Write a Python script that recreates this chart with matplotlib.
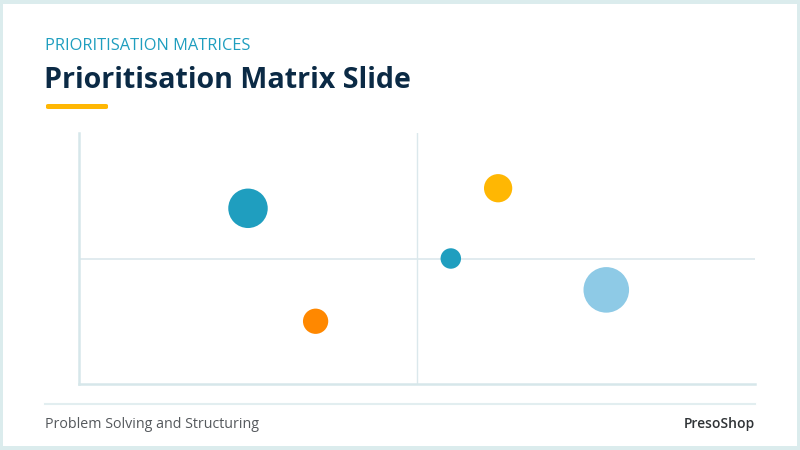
import matplotlib
matplotlib.use("Agg")
import matplotlib.pyplot as plt
from matplotlib.patches import Rectangle, FancyBboxPatch

# ---- data ----
x_values = [2.5, 3.5, 6.2, 5.5, 7.8]
y_values = [7.0, 2.5, 7.8, 5.0, 3.75]
bubble_sizes = [39, 16, 20, 10.5, 52]   # relative bubble areas
bubble_colors = ["#1f9ebf", "#ff8800", "#ffb703", "#1f9ebf", "#8ecae6"]

kicker = "PRIORITISATION MATRICES"
title = "Prioritisation Matrix Slide"
footer_left = "Problem Solving and Structuring"
footer_right = "PresoShop"

W, H = 800, 450
fig = plt.figure(figsize=(W / 100, H / 100), dpi=100)
fig.patch.set_facecolor("#dbeced")

# slide card (white)
card = Rectangle((3 / W, 4 / H), (W - 6) / W, (H - 8) / H, transform=fig.transFigure,
                 facecolor="white", edgecolor="none", zorder=-10)
fig.patches.append(card)

def fx(px):
    return px / W

def fy(py):
    return 1 - py / H

# header
fig.text(fx(45), fy(46), kicker, fontsize=11.8, color="#1f9ebf",
         family="Open Sans", va="center", ha="left")
fig.text(fx(44), fy(80), title, fontsize=20.6, color="#0b2a45", weight="bold",
         family="Open Sans", va="center", ha="left")
bar = FancyBboxPatch((fx(46), fy(109)), fx(108) - fx(46), 5 / H,
                     boxstyle="round,pad=0,rounding_size=0.003",
                     transform=fig.transFigure, facecolor="#ffb703", edgecolor="none")
fig.patches.append(bar)

# footer
fig.add_artist(plt.Line2D([fx(45), fx(755)], [fy(404), fy(404)], transform=fig.transFigure,
                          color="#e2eef0", lw=1.5))
fig.text(fx(45), fy(424), footer_left, fontsize=10.3, color="#55595d",
         family="Open Sans", va="center", ha="left")
fig.text(fx(755), fy(424), footer_right, fontsize=10, color="#2f3336", weight="semibold",
         family="Open Sans", va="center", ha="right")

# matrix axes
ax = fig.add_axes([fx(79), fy(384), (755 - 79) / W, (384 - 133) / H], zorder=5)
ax.set_xlim(0, 10)
ax.set_ylim(0, 10)
ax.set_facecolor("none")
for s in ["top", "right"]:
    ax.spines[s].set_visible(False)
for s in ["left", "bottom"]:
    ax.spines[s].set_color("#d6e7ea")
    ax.spines[s].set_linewidth(1.8)
ax.set_xticks([])
ax.set_yticks([])
ax.axvline(5, color="#dbe8ec", lw=1.0, zorder=1)
ax.axhline(5, color="#dbe8ec", lw=1.2, zorder=1)

scale = 20.7  # area scale (pt^2 per size unit)
ax.scatter(x_values, y_values, s=[v * scale for v in bubble_sizes], c=bubble_colors,
           edgecolors="none", zorder=3, clip_on=False)

fig.savefig("out.png", dpi=100)
